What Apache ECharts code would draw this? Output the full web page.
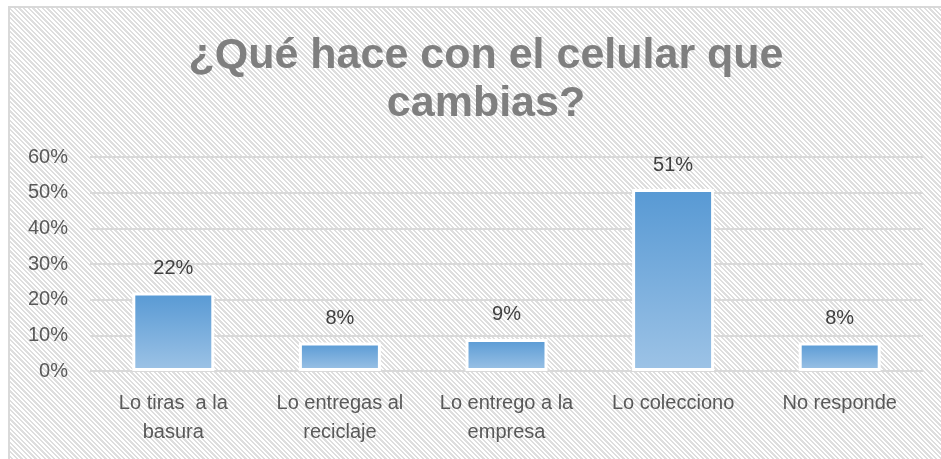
<!DOCTYPE html>
<html>
<head>
<meta charset="utf-8">
<script src="https://cdn.jsdelivr.net/npm/echarts@6/dist/echarts.min.js"></script>
<style>
  html, body { margin: 0; padding: 0; background: #fff; }
  #frame {
    position: absolute; left: 8px; top: 6px; width: 960px; height: 480px;
    border: 2px solid #d9d9d9;
    background: repeating-linear-gradient(45deg, #ffffff 0px, #ffffff 1.7px, #dedede 1.7px, #dedede 3.3px);
  }
  #main { position: absolute; left: 0; top: 0; width: 941px; height: 459px; }
</style>
</head>
<body>
<div id="frame"></div>
<div id="main"></div>
<script>
// categorias y porcentajes
var categories = ['Lo tiras  a la\nbasura', 'Lo entregas al\nreciclaje', 'Lo entrego a la\nempresa', 'Lo colecciono', 'No responde'];
var values = [22, 8, 9, 51, 8];
var titleText = '¿Qué hace con el celular que\ncambias?';

var myChart = echarts.init(document.getElementById('main'));
var option = {
    backgroundColor: 'transparent',
    animation: false,
    title: {
        text: titleText,
        left: 481,
        top: 27,
        textAlign: 'center',
        textStyle: {
            fontFamily: 'Liberation Sans',
            fontSize: 43,
            fontWeight: 'bold',
            color: '#7f7f7f',
            lineHeight: 48
        }
    },
    grid: {
        left: 90,
        right: 18,
        top: 157,
        bottom: 88
    },
    xAxis: {
        type: 'category',
        data: categories,
        axisLine: { show: false },
        axisTick: { show: false },
        axisLabel: {
            interval: 0,
            margin: 18,
            fontFamily: 'Liberation Sans',
            fontSize: 20,
            color: '#595959',
            lineHeight: 29
        }
    },
    yAxis: {
        type: 'value',
        min: 0,
        max: 60,
        interval: 10,
        axisLabel: {
            formatter: '{value}%',
            margin: 22,
            fontFamily: 'Liberation Sans',
            fontSize: 20,
            color: '#595959'
        },
        splitLine: {
            lineStyle: { color: '#d9d9d9', width: 2 }
        }
    },
    series: [{
        type: 'bar',
        data: values,
        barWidth: 82,
        itemStyle: {
            borderColor: '#ffffff',
            borderWidth: 3,
            color: new echarts.graphic.LinearGradient(0, 0, 0, 1, [
                { offset: 0, color: '#5799d4' },
                { offset: 1, color: '#9dc3e6' }
            ])
        },
        label: {
            show: true,
            position: 'top',
            distance: 14,
            formatter: '{c}%',
            fontFamily: 'Liberation Sans',
            fontSize: 20,
            color: '#404040'
        }
    }]
};
option && myChart.setOption(option);
</script>
</body>
</html>
